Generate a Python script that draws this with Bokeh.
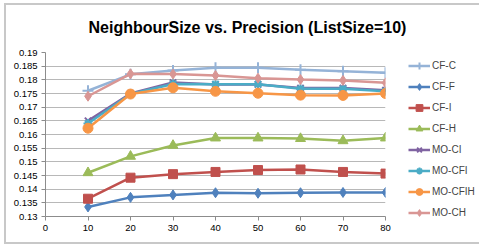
from bokeh.plotting import figure
from bokeh.models import FixedTicker, Legend, LegendItem, Title, Range1d
from bokeh.embed import file_html
from bokeh.resources import INLINE

title_text = "NeighbourSize vs. Precision (ListSize=10)"
neighbour_size = [10, 20, 30, 40, 50, 60, 70, 80]

cf_c = [0.1760, 0.1820, 0.1834, 0.1844, 0.1844, 0.1837, 0.1831, 0.1826]
cf_f = [0.1335, 0.1370, 0.1379, 0.1387, 0.1385, 0.1387, 0.1388, 0.1388]
cf_i = [0.1365, 0.1442, 0.1455, 0.1463, 0.1470, 0.1472, 0.1463, 0.1457]
cf_h = [0.1460, 0.1520, 0.1560, 0.1587, 0.1587, 0.1585, 0.1577, 0.1587]
mo_ci = [0.1650, 0.1750, 0.1790, 0.1783, 0.1783, 0.1770, 0.1770, 0.1762]
mo_cfi = [0.1640, 0.1748, 0.1785, 0.1784, 0.1784, 0.1767, 0.1767, 0.1758]
mo_cfih = [0.1623, 0.1748, 0.1771, 0.1758, 0.1751, 0.1744, 0.1743, 0.1750]
mo_ch = [0.1740, 0.1822, 0.1821, 0.1816, 0.1806, 0.1801, 0.1798, 0.1789]

series_names = ["CF-C", "CF-F", "CF-I", "CF-H", "MO-CI", "MO-CFI", "MO-CFIH", "MO-CH"]
series_values = [cf_c, cf_f, cf_i, cf_h, mo_ci, mo_cfi, mo_cfih, mo_ch]
series_colors = ["#95B3D7", "#4F81BD", "#C0504D", "#9BBB59", "#8064A2", "#4BACC6", "#F79646", "#D99694"]
series_markers = ["cross", "diamond", "square", "triangle", "x", "asterisk", "circle", "diamond"]
marker_sizes = [11, 10, 9, 10, 9, 9, 10, 10]

y_ticks = [0.13, 0.135, 0.14, 0.145, 0.15, 0.155, 0.16, 0.165, 0.17, 0.175, 0.18, 0.185, 0.19]
y_tick_labels = ["0.13", "0.135", "0.14", "0.145", "0.15", "0.155", "0.16", "0.165", "0.17", "0.175", "0.18", "0.185", "0.19"]
x_ticks = [0, 10, 20, 30, 40, 50, 60, 70, 80]

FONT = "Liberation Sans"

p = figure(frame_width=340, frame_height=164, output_backend="svg", toolbar_location=None,
           x_range=Range1d(0, 80), y_range=Range1d(0.13, 0.19),
           min_border_left=45, min_border_right=94, min_border_top=52, min_border_bottom=33)
p.outline_line_color = None
p.background_fill_color = "white"
p.border_fill_alpha = 0
p.styles = {"box-shadow": "inset 4px 3px 0 0 #ffffff, inset 0 -5px 0 0 #ffffff, "
                          "inset 6px 5px 0 0 #c8c8c8, inset 0 -7px 0 0 #c8c8c8"}

p.xgrid.grid_line_color = None
p.ygrid.grid_line_color = "#b8b8b8"
p.ygrid.grid_line_width = 1

p.yaxis.ticker = FixedTicker(ticks=y_ticks)
p.yaxis.major_label_overrides = {t: s for t, s in zip(y_ticks, y_tick_labels)}
p.xaxis.ticker = FixedTicker(ticks=x_ticks)
for ax in (p.xaxis, p.yaxis):
    ax.axis_line_color = "#8c8c8c"
    ax.major_tick_line_color = "#8c8c8c"
    ax.major_tick_out = 4
    ax.major_tick_in = 0
    ax.minor_tick_line_color = None
    ax.major_label_text_font = FONT
    ax.major_label_text_font_size = "9.5px"
    ax.major_label_text_color = "#000000"
    ax.major_label_standoff = 4

items = []
for name, vals, col, mk, ms in zip(series_names, series_values, series_colors, series_markers, marker_sizes):
    r1 = p.line(neighbour_size, vals, line_color=col, line_width=2.5)
    r2 = p.scatter(neighbour_size, vals, marker=mk, size=ms, fill_color=col, line_color=col,
                   line_width=2 if mk in ("cross", "x", "asterisk") else 1)
    items.append(LegendItem(label=name, renderers=[r1, r2]))

legend = Legend(items=items, location=(23, -5), orientation="vertical")
legend.background_fill_alpha = 0
legend.border_line_color = None
legend.label_text_font = FONT
legend.label_text_font_size = "10px"
legend.glyph_width = 22
legend.glyph_height = 17
legend.label_height = 17
legend.spacing = 4
legend.padding = 0
legend.margin = 0
legend.label_standoff = 2
p.add_layout(legend, "right")

p.title = Title(text=title_text, align="left", offset=43, standoff=33,
                text_font=FONT, text_font_style="bold", text_font_size="16px", text_color="#000000")

open("out.html", "w").write(file_html(p, INLINE))
